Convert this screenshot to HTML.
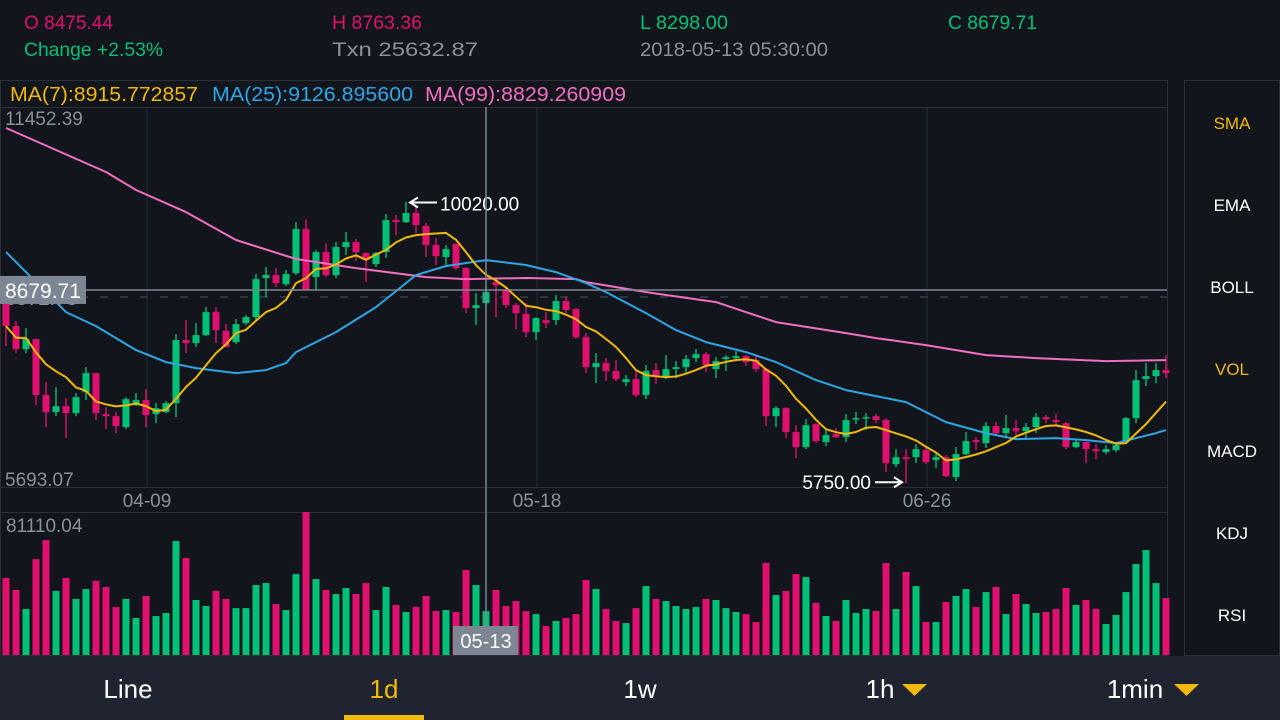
<!DOCTYPE html>
<html><head><meta charset="utf-8">
<style>
html,body{margin:0;padding:0;background:#12151c;width:1280px;height:720px;overflow:hidden}
svg{display:block}
text{font-family:"Liberation Sans",sans-serif}
</style></head>
<body>
<svg id="chart" width="1280" height="720" viewBox="0 0 1280 720" xmlns="http://www.w3.org/2000/svg">
<rect x="0" y="0" width="1280" height="720" fill="#12151c"/>
<g>
<text x="24" y="29" font-size="19" fill="#e0106e" textLength="89" lengthAdjust="spacingAndGlyphs">O 8475.44</text>
<text x="24" y="56" font-size="19" fill="#02c076" textLength="139" lengthAdjust="spacingAndGlyphs">Change +2.53%</text>
<text x="332" y="29" font-size="19" fill="#e0106e" textLength="90" lengthAdjust="spacingAndGlyphs">H 8763.36</text>
<text x="332" y="56" font-size="19" fill="#8a8f99" textLength="146" lengthAdjust="spacingAndGlyphs">Txn 25632.87</text>
<text x="640" y="29" font-size="19" fill="#02c076" textLength="88" lengthAdjust="spacingAndGlyphs">L 8298.00</text>
<text x="640" y="56" font-size="19" fill="#8a8f99" textLength="188" lengthAdjust="spacingAndGlyphs">2018-05-13 05:30:00</text>
<text x="948" y="29" font-size="19" fill="#02c076" textLength="89" lengthAdjust="spacingAndGlyphs">C 8679.71</text>
</g>
<rect x="0.5" y="80.5" width="1167" height="575" fill="none" stroke="#2a2f3a"/>
<line x1="0" y1="107.5" x2="1167" y2="107.5" stroke="#2a2f3a"/>
<line x1="0" y1="487.5" x2="1167" y2="487.5" stroke="#2a2f3a"/>
<line x1="0" y1="512.5" x2="1167" y2="512.5" stroke="#2a2f3a"/>
<g>
<text x="10" y="101" font-size="20" fill="#f0b90b" textLength="188" lengthAdjust="spacingAndGlyphs">MA(7):8915.772857</text>
<text x="212" y="101" font-size="20" fill="#2ea6e6" textLength="201" lengthAdjust="spacingAndGlyphs">MA(25):9126.895600</text>
<text x="425" y="101" font-size="20" fill="#f06fc0" textLength="201" lengthAdjust="spacingAndGlyphs">MA(99):8829.260909</text>
</g>
<g id="grid"></g>
<g id="marks"></g>
<g>
<rect x="1184.5" y="80.5" width="95" height="575" fill="none" stroke="#2a2f3a"/>
<text x="1232" y="129" font-size="17" fill="#f0b90b" text-anchor="middle">SMA</text>
<text x="1232" y="211" font-size="17" fill="#ffffff" text-anchor="middle">EMA</text>
<text x="1232" y="293" font-size="17" fill="#ffffff" text-anchor="middle">BOLL</text>
<text x="1232" y="375" font-size="17" fill="#f0b90b" text-anchor="middle">VOL</text>
<text x="1232" y="457" font-size="17" fill="#ffffff" text-anchor="middle">MACD</text>
<text x="1232" y="539" font-size="17" fill="#ffffff" text-anchor="middle">KDJ</text>
<text x="1232" y="621" font-size="17" fill="#ffffff" text-anchor="middle">RSI</text>
</g>
<g>
<rect x="0" y="656" width="1280" height="64" fill="#1f2430"/>
<text x="128" y="698" font-size="26" fill="#ffffff" text-anchor="middle">Line</text>
<text x="384" y="698" font-size="26" fill="#f0b90b" text-anchor="middle">1d</text>
<rect x="344" y="715" width="80" height="5" fill="#f0b90b"/>
<text x="640" y="698" font-size="26" fill="#ffffff" text-anchor="middle">1w</text>
<text x="880" y="698" font-size="26" fill="#ffffff" text-anchor="middle">1h</text>
<polygon points="902,684 927,684 914.5,696" fill="#f0b90b"/>
<text x="1135" y="698" font-size="26" fill="#ffffff" text-anchor="middle">1min</text>
<polygon points="1174,684 1199,684 1186.5,696" fill="#f0b90b"/>
</g>
</svg>
<script>
const dateLabels = ["04-09","05-18","06-26"];
const dateIdx = [14,53,92];
const openP = [8481,8132,7783,7935,7086,6828,6919,6813,7131,7419,6798,6767,6601,6934,7010,6798,6828,6965,7920,7874,7995,8344,8056,7889,8177,8268,8860,8905,8769,8935,9602,8875,9254,8905,9330,9405,9238,9072,9254,9739,9708,9845,9648,9360,9178,9375,9011,8405,8481,8799,8678,8450,8314,8041,8223,8223,8511,8390,7965,7510,7571,7450,7283,7328,7086,7465,7374,7480,7510,7647,7707,7480,7632,7647,7677,7616,7480,6767,6889,6525,6298,6646,6374,6495,6449,6722,6737,6767,6707,6040,6146,6146,6252,6100,6146,5843,6191,6404,6358,6616,6510,6586,6540,6601,6752,6707,6661,6298,6374,6267,6222,6252,6374,6737,7328,7374,7465];
const highP = [8556,8208,8101,7935,7283,7207,7040,7116,7510,7419,6904,6828,7055,7116,7177,6965,6995,8011,8223,8177,8420,8420,8162,8238,8299,8920,9026,9011,8981,9708,9754,9284,9390,9405,9557,9451,9254,9254,9830,9815,10020,9966,9693,9466,9360,9390,9026,8632,8723,8875,8723,8481,8481,8268,8344,8602,8572,8405,8026,7723,7647,7616,7389,7435,7541,7571,7692,7601,7692,7783,7738,7662,7692,7753,7692,7677,7495,6919,6904,6631,6722,6661,6555,6586,6798,6828,6813,6798,6737,6267,6267,6343,6298,6207,6176,6298,6525,6449,6677,6677,6783,6707,6661,6813,6783,6798,6677,6419,6374,6343,6328,6374,6752,7465,7571,7571,7692];
const lowP = [7829,7723,7723,6934,6601,6767,6434,6767,7010,6707,6570,6510,6570,6919,6601,6661,6813,6752,7723,7814,7980,7874,7814,7859,8147,8223,8572,8723,8738,8905,8678,8678,8875,8860,9208,9117,8799,9026,9163,9511,9693,9542,9178,9057,9042,8981,8329,8147,8450,8268,8405,8086,7965,7920,8101,8147,8329,7935,7419,7268,7298,7298,7222,7055,7025,7252,7328,7344,7419,7586,7435,7344,7450,7616,7526,7435,6616,6601,6434,6131,6267,6358,6313,6434,6374,6646,6555,6661,5918,5994,5750,6055,6040,5979,5843,5782,6176,6252,6282,6480,6434,6480,6404,6510,6661,6631,6267,6282,6055,6116,6191,6222,6358,6661,7222,7268,7344];
const closeP = [8132,7783,7935,7086,6828,6919,6813,7055,7419,6813,6767,6616,7025,7010,6783,6889,6965,7920,7874,7995,8344,8071,7814,8162,8268,8844,8905,8784,8920,9602,8678,9254,8905,9330,9405,9254,9132,9238,9739,9708,9845,9663,9360,9193,9299,9011,8405,8450,8647,8753,8450,8329,8041,8253,8177,8511,8374,7965,7510,7571,7450,7328,7328,7086,7450,7389,7480,7510,7632,7707,7541,7601,7662,7677,7586,7480,6767,6889,6525,6298,6631,6389,6480,6449,6707,6737,6752,6707,6055,6146,6116,6267,6070,6146,5858,6191,6389,6374,6616,6510,6586,6540,6601,6752,6722,6677,6298,6374,6267,6237,6267,6328,6737,7313,7374,7465,7419];
const volumes = [43700,36900,26100,54400,65200,36300,43700,31800,37400,42000,38600,27200,31800,21000,33500,22100,23800,64600,55000,31200,27800,36300,31800,26600,26600,39700,40800,28900,25500,45900,81110,43100,36900,34600,38000,34600,40800,25500,38600,28400,24400,27200,33500,24900,25500,24400,48200,39700,24900,36900,27800,30600,24900,23200,16400,19300,21000,23200,42500,37400,26100,19300,18100,26600,39100,31800,30600,27800,26100,27200,31800,31200,26600,24400,23200,18700,52200,34000,36300,45900,44200,29500,22100,19300,31200,23800,26100,24900,52200,26100,47100,39100,18700,18700,30100,33500,37400,27200,35700,38600,23200,34600,28900,23800,24400,26100,38000,28400,31200,26100,17600,22700,35700,51600,59500,40800,32300];
const ma25Idx = [0,2,6,9,13,16,19,23,26,28,29,33,37,41,44,48,52,55,58,60,64,67,70,74,77,81,84,87,90,94,98,101,105,108,111,115,116];
const ma25Val = [9254,8950,8344,8132,7768,7586,7495,7419,7465,7571,7738,8041,8420,8905,9042,9132,9057,8950,8784,8647,8329,8071,7889,7738,7586,7313,7162,7071,6980,6677,6510,6419,6434,6404,6358,6510,6555];
const ma99Idx = [0,5,10,13,18,23,29,35,42,46,52,57,58,64,71,77,84,87,92,98,103,110,116];
const ma99Val = [11134,10800,10467,10194,9860,9436,9148,9011,8875,8844,8860,8844,8799,8647,8496,8193,8026,7950,7844,7692,7647,7601,7616];
const priceMax = 11452.39, priceMin = 5693.07, volMax = 81110.04;
const crossIdx = 48, crossPrice = 8679.71, lastPrice = 8572.73;
const maxIdx = 40, maxLabel = "10020.00", minIdx = 90, minLabel = "5750.00";

const NS = "http://www.w3.org/2000/svg";
const PT = 107, PB = 487, VT = 512, VB = 655;
const xS = i => 6 + 10 * i;
const yP = p => PT + (priceMax - p) / (priceMax - priceMin) * (PB - PT);
const yV = v => VB - v / volMax * (VB - VT);
const RED = "#e0106e", GREEN = "#02c076";
function mk(tag, attrs, parent) {
  const e = document.createElementNS(NS, tag);
  for (const k in attrs) e.setAttribute(k, attrs[k]);
  parent.appendChild(e);
  return e;
}
const grid = document.getElementById("grid");
const marks = document.getElementById("marks");

dateIdx.forEach((di, k) => {
  const x = xS(di) + 1;
  const gl = mk("line", {x1: x, y1: PT, x2: x, y2: PB, stroke: "#262b36"}, grid);
  
  
  const t = mk("text", {x: x, y: 507, "font-size": 19, fill: "#8a8f99", "text-anchor": "middle"}, grid);
  t.textContent = dateLabels[k];
  
  
});
const dl = mk("line", {x1: 0, y1: yP(lastPrice), x2: 1167, y2: yP(lastPrice), stroke: "#2f3440", "stroke-width": 2, "stroke-dasharray": "8 12"}, grid);


const lpl = mk("text", {x: 5, y: yP(lastPrice) + 8, "font-size": 20, fill: "#8a8f99"}, grid);
lpl.textContent = lastPrice.toFixed(2);



for (let i = 0; i < openP.length; i++) {
  const up = closeP[i] >= openP[i];
  const c = up ? GREEN : RED;
  const x = xS(i);
  const w = mk("line", {x1: x, y1: yP(highP[i]), x2: x, y2: yP(lowP[i]), stroke: c, "stroke-width": 1.4}, marks);
  
  
  const top = yP(Math.max(openP[i], closeP[i])), bot = yP(Math.min(openP[i], closeP[i]));
  const b = mk("rect", {x: x - 3.5, y: top, width: 7, height: Math.max(1.5, bot - top), fill: c}, marks);
  
  
  const v = mk("rect", {x: x - 3.5, y: yV(volumes[i]), width: 7, height: VB - yV(volumes[i]), fill: c}, marks);
  
  
}
function line(pts, color, name) {
  const p = mk("polyline", {points: pts.map(q => q[0].toFixed(1) + "," + q[1].toFixed(1)).join(" "), fill: "none", stroke: color, "stroke-width": 2, "stroke-linejoin": "round"}, marks);
  
  
}
line(ma99Idx.map((d, k) => [xS(d), yP(ma99Val[k])]), "#f06fc0", "ma99-line");
line(ma25Idx.map((d, k) => [xS(d), yP(ma25Val[k])]), "#2ea6e6", "ma25-line");
const ma7 = closeP.map((_, i) => {
  const s = closeP.slice(Math.max(0, i - 6), i + 1);
  return s.reduce((a, b) => a + b, 0) / s.length;
});
line(ma7.map((v, i) => [xS(i), yP(v)]), "#f0b90b", "ma7-line");

[[priceMax, 125, 'y-axis-max-label'], [priceMin, 486, 'y-axis-min-label']].forEach(a => {
  const t = mk("text", {x: 5, y: a[1], "font-size": 19, fill: "#8a8f99"}, marks);
  t.textContent = a[0].toFixed(2);
  
  
});
const vt = mk("text", {x: 6, y: 532, "font-size": 19, fill: "#8a8f99"}, marks);
vt.textContent = volMax.toFixed(2);



const hx = xS(maxIdx) + 1, hy = yP(highP[maxIdx]) + 1;
const ha = mk("path", {d: `M${hx + 30},${hy} L${hx + 5},${hy} M${hx + 11},${hy - 5} L${hx + 3},${hy} L${hx + 11},${hy + 5}`, stroke: "#fff", "stroke-width": 2, fill: "none"}, marks);


const ht = mk("text", {x: hx + 33, y: hy + 8, "font-size": 19, fill: "#fff"}, marks);
ht.textContent = maxLabel;


const lx = xS(minIdx) - 1, ly = yP(lowP[minIdx]) - 1;
const la = mk("path", {d: `M${lx - 30},${ly} L${lx - 5},${ly} M${lx - 11},${ly - 5} L${lx - 3},${ly} L${lx - 11},${ly + 5}`, stroke: "#fff", "stroke-width": 2, fill: "none"}, marks);


const lt = mk("text", {x: lx - 34, y: ly + 7, "font-size": 19, fill: "#fff", "text-anchor": "end"}, marks);
lt.textContent = minLabel;



const cx = xS(crossIdx), cy = yP(crossPrice);
const ch1 = mk("line", {x1: cx, y1: PT, x2: cx, y2: VB, stroke: "#7d8794", "stroke-width": 1.5}, marks);


const ch2 = mk("line", {x1: 0, y1: cy, x2: 1167, y2: cy, stroke: "#7d8794", "stroke-width": 1.5}, marks);


const cb = mk("rect", {x: 0, y: cy - 14, width: 86, height: 28, fill: "#7d8794"}, marks);


const ct = mk("text", {x: 5, y: cy + 8, "font-size": 21, fill: "#fff"}, marks);
ct.textContent = crossPrice.toFixed(2);


const db = mk("rect", {x: cx - 33, y: 626, width: 65, height: 29, fill: "#7d8794"}, marks);


const dt = mk("text", {x: cx, y: 648, "font-size": 20, fill: "#fff", "text-anchor": "middle"}, marks);
dt.textContent = "05-13";


</script>
</body></html>
